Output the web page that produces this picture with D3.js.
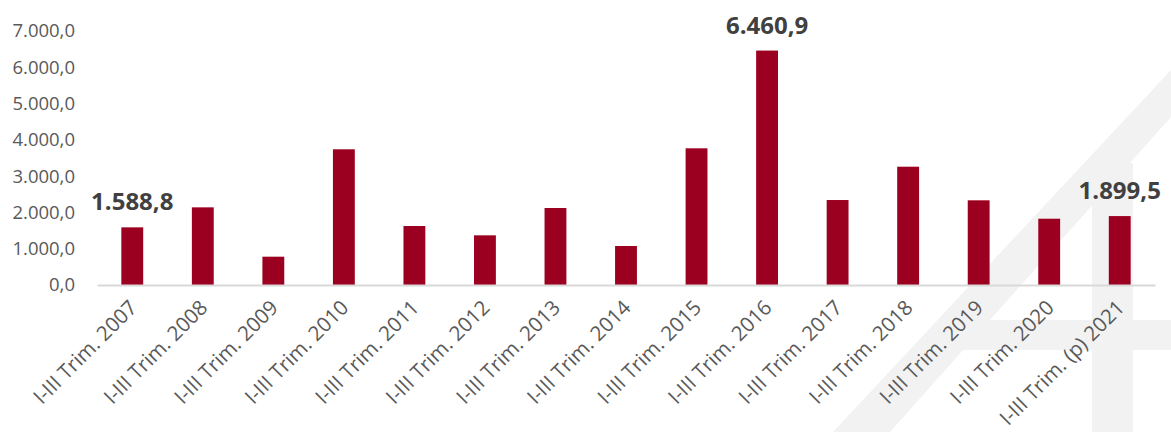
<!DOCTYPE html>
<html>
<head>
<meta charset="utf-8">
<script src="https://cdn.jsdelivr.net/npm/d3@7"></script>
<style>
  body { margin: 0; background: #fff; }
  svg { display: block; font-family: 'Open Sans', 'Noto Sans', sans-serif; }
</style>
</head>
<body>
<svg id="chart" width="1171" height="432"></svg>
<script>
// categories and values
var categories = [
  'I-III Trim. 2007', 'I-III Trim. 2008', 'I-III Trim. 2009', 'I-III Trim. 2010',
  'I-III Trim. 2011', 'I-III Trim. 2012', 'I-III Trim. 2013', 'I-III Trim. 2014',
  'I-III Trim. 2015', 'I-III Trim. 2016', 'I-III Trim. 2017', 'I-III Trim. 2018',
  'I-III Trim. 2019', 'I-III Trim. 2020', 'I-III Trim. (p) 2021'
]
var values = [1588.8, 2140, 780, 3740, 1626, 1369, 2122, 1075, 3767, 6460.9, 2342, 3260, 2334, 1827, 1899.5]
// only these bars get a value label
var labelled = [0, 9, 14]
var yTicks = [0, 1000, 2000, 3000, 4000, 5000, 6000, 7000]

var width = 1171
var height = 432
var margin = { top: 31, right: 16, bottom: 147, left: 97 }

var svg = d3.select('#chart')

// faint background watermark
var wm = svg.append('g').attr('fill', '#f2f2f2')
wm.append('polygon').attr('points', '833,432 890,432 1171,117 1171,70')
wm.append('rect').attr('x', 1092).attr('y', 163).attr('width', 41).attr('height', 269)
wm.append('rect').attr('x', 943).attr('y', 320).attr('width', 228).attr('height', 30)

var x = d3.scaleBand()
  .domain(categories)
  .range([margin.left, width - margin.right])
  .paddingInner(0.69)
  .paddingOuter(0.345)

var y = d3.scaleLinear()
  .domain([0, 7000])
  .range([height - margin.bottom, margin.top])

var fmt = function (v) {
  var s = d3.format(',.1f')(v)
  return s.replace(/,/g, '#').replace('.', ',').replace(/#/g, '.')
}

// y axis labels (no line)
var yAxis = svg.append('g')
  .attr('transform', 'translate(' + (margin.left - 2) + ',0)')
  .call(d3.axisLeft(y).tickValues(yTicks).tickFormat(fmt).tickSize(0).tickPadding(20))
yAxis.select('.domain').remove()
yAxis.selectAll('text')
  .attr('font-size', 18.5)
  .attr('fill', '#595959')
  .attr('font-family', "'Open Sans', sans-serif")

// bars
svg.append('g')
  .selectAll('rect')
  .data(values)
  .join('rect')
  .attr('x', (d, i) => x(categories[i]))
  .attr('y', (d) => y(d))
  .attr('width', x.bandwidth())
  .attr('height', (d) => y(0) - y(d))
  .attr('fill', '#9c0020')

// x axis
var xAxis = svg.append('g')
  .attr('transform', 'translate(0,' + y(0) + ')')
  .call(d3.axisBottom(x).tickSize(0).tickPadding(0).tickSizeOuter(0))
xAxis.select('.domain')
  .attr('stroke', '#d9d9d9')
  .attr('stroke-width', 2)
xAxis.selectAll('text')
  .attr('font-size', 20.5)
  .attr('fill', '#595959')
  .attr('font-family', "'Open Sans', sans-serif")
  .attr('text-anchor', 'end')
  .attr('dy', 0)
  .attr('transform', 'translate(6,24) rotate(-45)')

// value labels
svg.append('g')
  .selectAll('text')
  .data(labelled)
  .join('text')
  .attr('x', (i) => x(categories[i]) + x.bandwidth() / 2)
  .attr('y', (i) => y(values[i]) - 17)
  .attr('text-anchor', 'middle')
  .attr('font-size', 24)
  .attr('font-weight', 'bold')
  .attr('fill', '#404040')
  .text((i) => fmt(values[i]))
</script>
</body>
</html>
